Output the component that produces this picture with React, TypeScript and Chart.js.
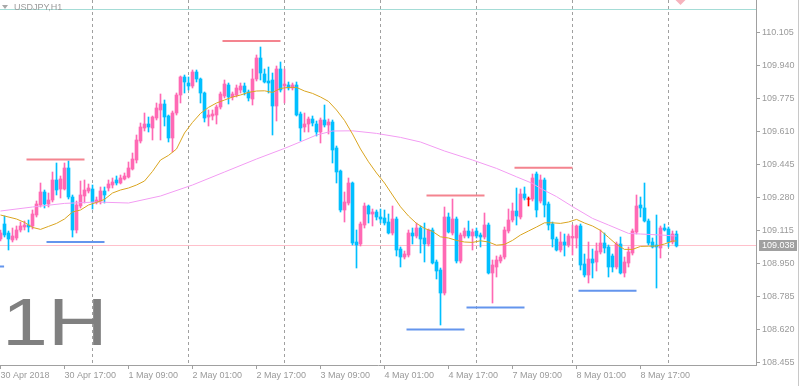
import { useEffect, useRef } from 'react';
import { Chart, registerables } from 'chart.js';

Chart.register(...registerables);

// ---------- DATA ----------
const FIRST_BAR = -1; // bar index of the first candle (30 Apr 2018, H1)

const opens = [
  109.072, 109.147, 109.102, 109.067, 109.077, 109.117, 109.132, 109.142, 109.137, 109.192,
  109.242, 109.307, 109.247, 109.267, 109.367, 109.322, 109.322, 109.427, 109.282, 109.117,
  109.237, 109.287, 109.312, 109.322, 109.257, 109.262, 109.312, 109.327, 109.342, 109.367,
  109.352, 109.372, 109.382, 109.422, 109.467, 109.562, 109.627, 109.647, 109.627, 109.677,
  109.717, 109.747, 109.687, 109.577, 109.702, 109.792, 109.882, 109.852, 109.837, 109.907,
  109.872, 109.802, 109.682, 109.687, 109.692, 109.732, 109.787, 109.842, 109.782, 109.792,
  109.817, 109.837, 109.807, 109.772, 109.872, 109.977, 109.897, 109.862, 109.867, 109.737,
  109.922, 109.837, 109.842, 109.827, 109.842, 109.697, 109.632, 109.647, 109.672, 109.647,
  109.607, 109.667, 109.642, 109.657, 109.527, 109.412, 109.217, 109.252, 109.352, 109.057,
  109.047, 109.142, 109.237, 109.197, 109.207, 109.182, 109.177, 109.157, 109.102, 109.172,
  109.022, 108.982, 108.992, 109.102, 109.087, 109.127, 109.077, 109.047, 109.117, 108.957,
  108.917, 108.802, 109.182, 109.102, 109.172, 108.962, 109.087, 109.112, 109.087, 109.112,
  109.092, 109.082, 109.142, 108.902, 108.932, 108.962, 108.982, 109.112, 109.167, 109.212,
  109.182, 109.297, 109.272, 109.272, 109.397, 109.262, 109.367, 109.247, 109.147, 109.072,
  109.017, 109.057, 109.042, 109.077, 109.077, 109.137, 108.947, 108.892, 108.972, 108.957,
  109.007, 109.052, 109.032, 108.987, 108.932, 109.047, 108.902, 108.952, 109.002, 109.107,
  109.242, 109.227, 109.162, 109.057, 109.042, 109.027, 109.127, 109.122, 109.057, 109.097,
];
const highs = [
  109.117, 109.187, 109.112, 109.127, 109.137, 109.157, 109.162, 109.167, 109.217, 109.262,
  109.352, 109.317, 109.302, 109.407, 109.452, 109.387, 109.452, 109.462, 109.292, 109.262,
  109.362, 109.367, 109.347, 109.342, 109.282, 109.332, 109.332, 109.367, 109.377, 109.387,
  109.392, 109.402, 109.457, 109.502, 109.592, 109.652, 109.702, 109.682, 109.687, 109.752,
  109.797, 109.767, 109.692, 109.712, 109.802, 109.887, 109.892, 109.882, 109.917, 109.917,
  109.877, 109.807, 109.717, 109.717, 109.742, 109.807, 109.867, 109.852, 109.807, 109.842,
  109.852, 109.852, 109.817, 109.922, 109.992, 110.032, 109.922, 109.932, 109.902, 109.937,
  109.957, 109.922, 109.857, 109.852, 109.857, 109.707, 109.702, 109.682, 109.687, 109.662,
  109.677, 109.742, 109.672, 109.667, 109.537, 109.417, 109.307, 109.377, 109.357, 109.117,
  109.157, 109.252, 109.242, 109.222, 109.217, 109.222, 109.217, 109.197, 109.237, 109.182,
  109.032, 109.012, 109.117, 109.127, 109.152, 109.137, 109.152, 109.122, 109.127, 108.967,
  108.927, 109.232, 109.202, 109.272, 109.182, 109.102, 109.127, 109.162, 109.122, 109.127,
  109.102, 109.202, 109.152, 108.967, 108.987, 108.992, 109.132, 109.222, 109.252, 109.327,
  109.322, 109.332, 109.282, 109.397, 109.407, 109.392, 109.377, 109.257, 109.157, 109.082,
  109.107, 109.097, 109.097, 109.142, 109.142, 109.147, 108.997, 109.057, 109.022, 109.052,
  109.117, 109.102, 109.042, 108.997, 109.057, 109.082, 108.982, 109.032, 109.122, 109.292,
  109.282, 109.352, 109.172, 109.077, 109.192, 109.137, 109.147, 109.132, 109.112, 109.112,
];
const lows = [
  109.062, 109.082, 109.017, 109.057, 109.067, 109.107, 109.117, 109.107, 109.122, 109.182,
  109.232, 109.227, 109.232, 109.257, 109.292, 109.277, 109.317, 109.272, 109.082, 109.102,
  109.227, 109.252, 109.302, 109.222, 109.247, 109.247, 109.252, 109.312, 109.327, 109.342,
  109.347, 109.367, 109.377, 109.417, 109.452, 109.552, 109.612, 109.607, 109.567, 109.667,
  109.567, 109.637, 109.557, 109.507, 109.692, 109.752, 109.802, 109.817, 109.827, 109.857,
  109.752, 109.657, 109.637, 109.667, 109.647, 109.722, 109.777, 109.747, 109.767, 109.782,
  109.802, 109.792, 109.762, 109.742, 109.862, 109.867, 109.852, 109.802, 109.592, 109.662,
  109.807, 109.752, 109.817, 109.817, 109.687, 109.562, 109.607, 109.607, 109.637, 109.587,
  109.552, 109.632, 109.597, 109.452, 109.352, 109.207, 109.157, 109.242, 109.042, 108.927,
  109.037, 109.127, 109.152, 109.137, 109.167, 109.152, 109.142, 109.097, 109.092, 108.987,
  108.932, 108.972, 108.982, 109.047, 109.077, 109.002, 108.957, 109.037, 108.947, 108.872,
  108.642, 108.792, 109.102, 109.092, 108.952, 108.952, 109.077, 109.077, 109.017, 109.077,
  109.032, 109.072, 108.897, 108.752, 108.882, 108.952, 108.972, 109.102, 109.157, 109.142,
  109.172, 109.267, 109.237, 109.262, 109.182, 109.252, 109.182, 109.117, 109.032, 109.012,
  109.007, 108.987, 109.032, 108.992, 109.027, 108.917, 108.882, 108.852, 108.877, 108.912,
  108.997, 109.002, 108.882, 108.907, 108.922, 108.897, 108.882, 108.932, 108.992, 109.097,
  109.182, 109.157, 109.042, 109.027, 108.827, 108.977, 109.112, 109.032, 109.047, 109.032,
];
const closes = [
  109.102, 109.092, 109.072, 109.087, 109.117, 109.137, 109.142, 109.132, 109.197, 109.247,
  109.307, 109.247, 109.267, 109.367, 109.317, 109.372, 109.427, 109.282, 109.117, 109.242,
  109.292, 109.317, 109.327, 109.257, 109.267, 109.312, 109.292, 109.347, 109.357, 109.352,
  109.377, 109.387, 109.427, 109.472, 109.567, 109.632, 109.647, 109.632, 109.682, 109.727,
  109.747, 109.682, 109.577, 109.702, 109.792, 109.882, 109.857, 109.837, 109.907, 109.872,
  109.802, 109.677, 109.692, 109.697, 109.732, 109.797, 109.847, 109.782, 109.797, 109.827,
  109.837, 109.807, 109.777, 109.872, 109.977, 109.902, 109.857, 109.852, 109.737, 109.922,
  109.817, 109.847, 109.827, 109.842, 109.692, 109.627, 109.647, 109.672, 109.652, 109.607,
  109.667, 109.642, 109.657, 109.517, 109.407, 109.217, 109.257, 109.352, 109.052, 109.042,
  109.147, 109.237, 109.197, 109.207, 109.182, 109.172, 109.152, 109.102, 109.172, 109.017,
  108.982, 108.997, 109.102, 109.087, 109.127, 109.072, 109.047, 109.117, 108.952, 108.912,
  108.802, 109.182, 109.107, 109.172, 108.962, 109.092, 109.112, 109.087, 109.107, 109.087,
  109.082, 109.142, 108.902, 108.942, 108.967, 108.982, 109.117, 109.167, 109.212, 109.187,
  109.297, 109.277, 109.272, 109.377, 109.217, 109.367, 109.242, 109.142, 109.072, 109.017,
  109.057, 109.042, 109.087, 109.085, 109.137, 108.942, 108.892, 108.972, 108.952, 109.012,
  109.052, 109.027, 108.932, 108.932, 109.047, 108.902, 108.957, 109.007, 109.112, 109.237,
  109.227, 109.162, 109.052, 109.032, 109.032, 109.127, 109.117, 109.057, 109.097, 109.037,
];

// fast (orange) and slow (violet) moving averages
const maFastBars = [
  -1, 3, 5, 7, 9, 11, 13, 15, 17, 19, 21, 23, 25, 27, 29, 31, 33, 35, 37, 39,
  41, 43, 45, 47, 49, 51, 53, 55, 57, 59, 61, 63, 65, 67, 69, 71, 73, 75, 77, 79,
  81, 83, 85, 87, 89, 91, 93, 95, 97, 99, 101, 103, 105, 107, 109, 111, 113, 115, 117, 119,
  121, 123, 125, 127, 129, 131, 133, 135, 137, 139, 141, 143, 145, 147, 149, 151, 153, 155, 157, 159,
  161, 163, 165, 167, 168,
];
const maFastValues = [
  109.192, 109.172, 109.155, 109.130, 109.120, 109.135, 109.150, 109.172, 109.207, 109.217,
  109.242, 109.255, 109.270, 109.302, 109.317, 109.327, 109.342, 109.362, 109.410, 109.467,
  109.490, 109.522, 109.602, 109.655, 109.700, 109.730, 109.752, 109.767, 109.782, 109.792,
  109.805, 109.812, 109.813, 109.805, 109.825, 109.830, 109.830, 109.812, 109.800, 109.782,
  109.760, 109.717, 109.665, 109.597, 109.522, 109.458, 109.402, 109.352, 109.292, 109.233,
  109.187, 109.150, 109.125, 109.110, 109.083, 109.077, 109.065, 109.057, 109.055, 109.063,
  109.057, 109.041, 109.045, 109.065, 109.092, 109.112, 109.132, 109.153, 109.153, 109.150,
  109.157, 109.170, 109.152, 109.137, 109.115, 109.080, 109.045, 109.020, 109.020, 109.035,
  109.036, 109.037, 109.047, 109.062, 109.062,
];
const maSlowBars = [
  -1, 7, 15, 23, 31, 39, 47, 55, 63, 70, 74, 78, 82, 87, 93, 99, 104, 110, 117, 123,
  128, 132, 134, 138, 142, 147, 151, 156, 159, 164, 168,
];
const maSlowValues = [
  109.212, 109.232, 109.250, 109.257, 109.252, 109.287, 109.342, 109.407, 109.472, 109.525,
  109.558, 109.592, 109.612, 109.613, 109.600, 109.580, 109.557, 109.512, 109.467, 109.425,
  109.383, 109.350, 109.325, 109.284, 109.234, 109.175, 109.142, 109.100, 109.097, 109.092,
  109.087,
];

// daily high / low level segments
const resistStart = [5.5, 54.5, 105.5, 127.5];
const resistEnd = [20, 69, 120, 142];
const resistPrice = [109.47, 110.062, 109.29, 109.428];
const supportStart = [-1.2, 10.5, 100.5, 115.5, 143.5];
const supportEnd = [-0.1, 25, 115, 130, 158];
const supportPrice = [108.935, 109.057, 108.62, 108.73, 108.813];

const topLinePrice = 110.222;
const bidPrice = 109.038;
const markerBar = 169;
const markerPrice = 110.267;

const daySeparators = [22, 46, 70, 94, 118, 142, 166];
const xTickBars = [-1, 15, 31, 47, 63, 79, 95, 111, 127, 143, 159];
const xTickLabels = [
  '30 Apr 2018', '30 Apr 17:00', '1 May 09:00', '2 May 01:00', '2 May 17:00', '3 May 09:00',
  '4 May 01:00', '4 May 17:00', '7 May 09:00', '8 May 01:00', '8 May 17:00',
];
const yTicks = [
  108.455, 108.62, 108.785, 108.95, 109.115, 109.28, 109.445, 109.61, 109.775, 109.94, 110.105,
];
const symbolTitle = 'USDJPY,H1';
const periodLabel = '1H';

// ---------- STYLE ----------
const BULL = '#ff69b4';
const BEAR = '#00bfff';
const DOJI = '#ff0000';
const AXIS = '#a0a0a0';
const TEXT = '#9a9a9a';
const FONT = "'Liberation Sans', Arial, sans-serif";

export default function App() {
  const ref = useRef<HTMLCanvasElement>(null);

  useEffect(() => {
    document.body.style.margin = '0';
    const bullBodies: any[] = [];
    const bearBodies: any[] = [];
    const bullWicks: any[] = [];
    const bearWicks: any[] = [];
    const dojiWicks: any[] = [];
    const dojiTicks: any[] = [];
    opens.forEach((o, k) => {
      const x = FIRST_BAR + k;
      const c = closes[k];
      const wick = { x, y: [lows[k], highs[k]] };
      if (c > o) {
        bullBodies.push({ x, y: [o, c] });
        bullWicks.push(wick);
      } else if (c < o) {
        bearBodies.push({ x, y: [c, o] });
        bearWicks.push(wick);
      } else {
        dojiWicks.push(wick);
        dojiTicks.push({ x, y: o });
      }
    });

    const segs = (s: number[], e: number[], p: number[]) => {
      const out: any[] = [];
      s.forEach((v, k) => {
        out.push({ x: v, y: p[k] }, { x: e[k], y: p[k] }, { x: e[k] + 0.01, y: null });
      });
      return out;
    };

    const bodyCommon = { type: 'bar', barThickness: 3, grouped: false, borderWidth: 0, minBarLength: 1, order: 2 };
    const wickCommon = { type: 'bar', barThickness: 1, grouped: false, borderWidth: 0, minBarLength: 1, order: 3 };
    const lineCommon = { type: 'line', pointRadius: 0, borderWidth: 1, tension: 0, fill: false, order: 0 };

    const overlay = {
      id: 'overlay',
      beforeDatasetsDraw(chart: any) {
        const { ctx, chartArea: a, scales } = chart;
        const xs = scales.x;
        const ys = scales.y;
        ctx.save();
        // day separators
        ctx.strokeStyle = AXIS;
        ctx.lineWidth = 1;
        ctx.setLineDash([3, 3]);
        daySeparators.forEach((b) => {
          const px = Math.floor(xs.getPixelForValue(b)) + 0.5;
          ctx.beginPath();
          ctx.moveTo(px, a.top);
          ctx.lineTo(px, a.bottom);
          ctx.stroke();
        });
        ctx.setLineDash([]);
        // top line
        const ty = Math.floor(ys.getPixelForValue(topLinePrice)) + 0.5;
        ctx.strokeStyle = '#a4dcd6';
        ctx.beginPath();
        ctx.moveTo(a.left, ty);
        ctx.lineTo(a.right, ty);
        ctx.stroke();
        // bid line
        const by = Math.floor(ys.getPixelForValue(bidPrice)) + 0.5;
        ctx.strokeStyle = '#ffc0cb';
        ctx.beginPath();
        ctx.moveTo(a.left, by);
        ctx.lineTo(a.right, by);
        ctx.stroke();
        ctx.restore();
      },
      afterDraw(chart: any) {
        const { ctx, chartArea: a, scales } = chart;
        const ys = scales.y;
        ctx.save();
        // bid label
        const by = Math.floor(ys.getPixelForValue(bidPrice));
        ctx.fillStyle = '#a0a0a0';
        ctx.fillRect(a.right + 3, by - 5, 38, 11);
        ctx.fillStyle = '#ffffff';
        ctx.font = `9px ${FONT}`;
        ctx.textBaseline = 'middle';
        ctx.textAlign = 'left';
        ctx.fillText(bidPrice.toFixed(3), a.right + 6, by + 0.5);
        // title
        ctx.fillStyle = '#a8a8a8';
        ctx.beginPath();
        ctx.moveTo(2, 5);
        ctx.lineTo(8, 5);
        ctx.lineTo(5, 9);
        ctx.closePath();
        ctx.fill();
        ctx.fillStyle = TEXT;
        ctx.fillText(symbolTitle, 14, 8);
        // big period label
        ctx.fillStyle = '#808080';
        ctx.font = `66px ${FONT}`;
        ctx.textBaseline = 'alphabetic';
        ctx.translate(2, 345);
        ctx.scale(1.25, 1);
        ctx.fillText(periodLabel, 0, 0);
        ctx.setTransform(1, 0, 0, 1, 0, 0);
        // window border
        ctx.strokeStyle = '#c8c8c8';
        ctx.lineWidth = 1;
        ctx.beginPath();
        ctx.moveTo(798.5, 0);
        ctx.lineTo(798.5, chart.height);
        ctx.stroke();
        ctx.restore();
      },
    };

    const chart = new Chart(ref.current as HTMLCanvasElement, {
      type: 'bar',
      data: {
        datasets: [
          { ...lineCommon, data: maFastBars.map((b, k) => ({ x: b, y: maFastValues[k] })), borderColor: '#daa520' },
          { ...lineCommon, data: maSlowBars.map((b, k) => ({ x: b, y: maSlowValues[k] })), borderColor: '#f39cf3' },
          { ...lineCommon, data: segs(resistStart, resistEnd, resistPrice), borderColor: '#f4848f', borderWidth: 2, spanGaps: false },
          { ...lineCommon, data: segs(supportStart, supportEnd, supportPrice), borderColor: '#6495ed', borderWidth: 2, spanGaps: false },
          { type: 'line', showLine: false, data: dojiTicks, pointStyle: 'line', pointRadius: 2, pointBorderColor: DOJI, pointBorderWidth: 1, order: 1 },
          { type: 'line', showLine: false, data: [{ x: markerBar, y: markerPrice }], pointStyle: 'rectRot', pointRadius: 5, pointBackgroundColor: '#f6b3bd', pointBorderColor: '#f6b3bd', pointBorderWidth: 0, order: 1 },
          { ...bodyCommon, data: bullBodies, backgroundColor: BULL },
          { ...bodyCommon, data: bearBodies, backgroundColor: BEAR },
          { ...wickCommon, data: bullWicks, backgroundColor: BULL },
          { ...wickCommon, data: bearWicks, backgroundColor: BEAR },
          { ...wickCommon, data: dojiWicks, backgroundColor: DOJI },
        ] as any,
      },
      options: {
        responsive: false,
        animation: false,
        devicePixelRatio: 1,
        events: [],
        layout: { padding: 0, autoPadding: false },
        plugins: { legend: { display: false }, tooltip: { enabled: false } },
        scales: {
          x: {
            type: 'linear',
            min: -1.125,
            max: 187.875,
            offset: false,
            grid: { offset: false, drawOnChartArea: false, drawTicks: true, tickLength: 4, color: AXIS },
            border: { display: true, color: AXIS },
            ticks: {
              autoSkip: false,
              maxRotation: 0,
              minRotation: 0,
              align: 'start',
              padding: 1,
              color: TEXT,
              font: { family: FONT, size: 9 },
              callback: (_v: any, i: number) => xTickLabels[i],
            },
            afterBuildTicks: (s: any) => {
              s.ticks = xTickBars.map((v) => ({ value: v }));
            },
            afterFit: (s: any) => {
              s.height = 21;
              s.paddingLeft = 0;
              s.paddingRight = 0;
            },
          },
          y: {
            type: 'linear',
            position: 'right',
            min: 108.442,
            max: 110.267,
            grid: { drawOnChartArea: false, drawTicks: true, tickLength: 4, color: AXIS },
            border: { display: true, color: AXIS },
            ticks: {
              padding: 2,
              color: TEXT,
              font: { family: FONT, size: 9 },
              callback: (v: any) => Number(v).toFixed(3),
            },
            afterBuildTicks: (s: any) => {
              s.ticks = yTicks.map((v) => ({ value: v }));
            },
            afterFit: (s: any) => {
              s.width = 44;
              s.paddingTop = 0;
              s.paddingBottom = 0;
            },
          },
        },
      } as any,
      plugins: [overlay],
    });
    return () => chart.destroy();
  }, []);

  return (
    <div style={{ width: 800, height: 386, position: 'relative', background: '#ffffff' }}>
      <canvas ref={ref} width={800} height={386} style={{ display: 'block' }} />
    </div>
  );
}
